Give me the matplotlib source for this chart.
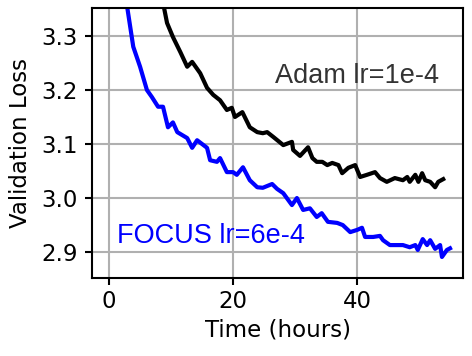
import matplotlib.pyplot as plt

# Adam lr=1e-4 (black)
adam_t = [8.5, 8.9, 9.35, 10.3, 11.5, 12.6, 13.4, 14.7, 15.8, 16.8, 17.9, 19.0, 19.8, 20.3,
          21.5, 22.7, 23.9, 24.8, 25.5, 26.5, 28.1, 29.5, 29.7, 30.8, 32.1, 32.8, 33.5, 34.4,
          35.2, 36.0, 37.0, 37.6, 38.6, 39.7, 40.5, 41.6, 42.9, 43.7, 44.8, 46.1, 47.4, 48.1,
          48.5, 49.4, 49.9, 50.5, 51.0, 51.8, 52.6, 53.1, 53.9]
adam_loss = [3.37, 3.35, 3.324, 3.298, 3.270, 3.243, 3.252, 3.231, 3.204, 3.191, 3.181, 3.163,
             3.167, 3.150, 3.159, 3.131, 3.122, 3.120, 3.122, 3.113, 3.098, 3.104, 3.089, 3.078,
             3.094, 3.074, 3.067, 3.067, 3.061, 3.065, 3.061, 3.046, 3.056, 3.061, 3.039, 3.043,
             3.048, 3.037, 3.030, 3.037, 3.033, 3.039, 3.030, 3.043, 3.030, 3.046, 3.033, 3.030,
             3.020, 3.030, 3.035]

# FOCUS lr=6e-4 (blue)
focus_t = [2.7, 3.9, 5.0, 6.1, 6.9, 7.9, 8.7, 9.5, 10.3, 11.0, 12.6, 13.4, 14.2, 15.8, 16.3,
           17.4, 17.9, 19.0, 20.0, 20.6, 21.6, 22.7, 23.9, 24.8, 26.3, 27.1, 28.1, 29.5, 30.3,
           31.3, 32.4, 33.5, 34.3, 35.3, 36.8, 37.7, 38.9, 40.0, 40.8, 41.3, 42.6, 43.7, 44.2,
           45.3, 47.4, 48.5, 49.4, 49.8, 50.6, 51.3, 51.8, 52.6, 53.4, 53.7, 54.5, 55.0]
focus_loss = [3.37, 3.280, 3.243, 3.2, 3.187, 3.169, 3.169, 3.131, 3.140, 3.122, 3.111, 3.093,
              3.107, 3.093, 3.070, 3.067, 3.074, 3.048, 3.048, 3.043, 3.057, 3.033, 3.020, 3.019,
              3.026, 3.017, 3.009, 2.987, 3.000, 2.978, 2.981, 2.965, 2.972, 2.956, 2.954, 2.950,
              2.937, 2.941, 2.945, 2.928, 2.928, 2.930, 2.922, 2.913, 2.913, 2.909, 2.913, 2.904,
              2.924, 2.913, 2.922, 2.906, 2.913, 2.891, 2.904, 2.907]

x_ticks = [0, 20, 40]
y_ticks = [2.9, 3.0, 3.1, 3.2, 3.3]

fig = plt.figure(figsize=(4.72, 3.56), dpi=100)
ax = fig.add_axes([0.195, 0.219, 0.786, 0.759])

ax.plot(adam_t, adam_loss, color='black', lw=3)
ax.plot(focus_t, focus_loss, color='blue', lw=3)

ax.set_xlim(-2.75, 57.1)
ax.set_ylim(2.852, 3.352)
ax.set_xticks(x_ticks)
ax.set_yticks(y_ticks)
ax.grid(True, color='#b0b0b0', lw=1.5)
ax.set_axisbelow(True)
for s in ax.spines.values():
    s.set_linewidth(1.5)
ax.tick_params(labelsize=16.5, width=1.5, length=5)
ax.tick_params(axis='y', pad=5)

ax.set_xlabel('Time (hours)', fontsize=16.5)
ax.set_ylabel('Validation Loss', fontsize=16.5, labelpad=7)

ax.text(26.8, 3.225, 'Adam lr=1e-4', color='#333333', fontsize=19.5,
        family='Liberation Sans', ha='left', va='center')
ax.text(1.3, 2.93, 'FOCUS lr=6e-4', color='blue', fontsize=19.5,
        family='Liberation Sans', ha='left', va='center')

fig.savefig('out.png', dpi=100)
